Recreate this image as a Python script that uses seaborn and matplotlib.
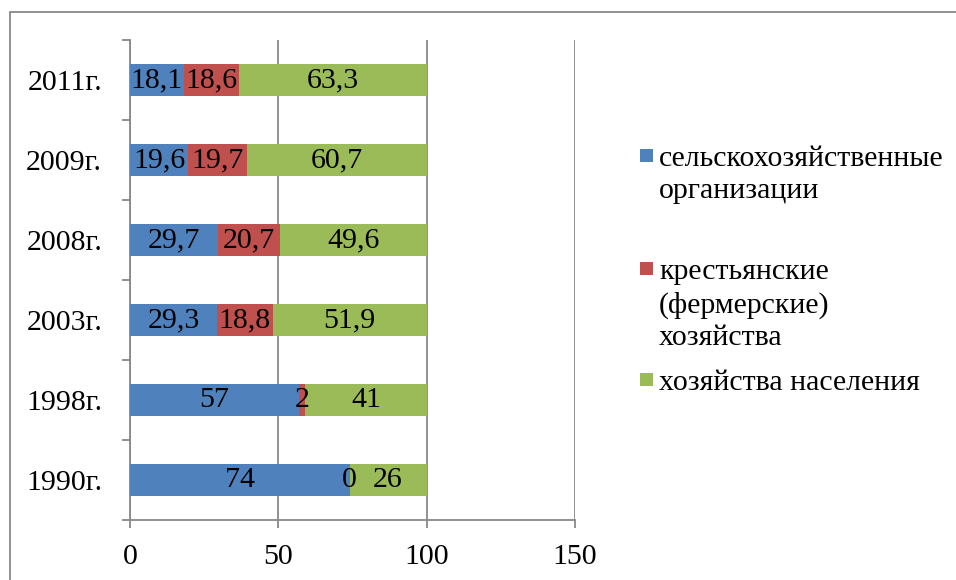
import matplotlib
matplotlib.use('Agg')
import matplotlib.pyplot as plt
import seaborn as sns
import pandas as pd
from matplotlib.patches import Rectangle

# данные (сверху вниз, как на диаграмме)
years = ['2011г.', '2009г.', '2008г.', '2003г.', '1998г.', '1990г.']
agri_org = [18.1, 19.6, 29.7, 29.3, 57, 74]
farms = [18.6, 19.7, 20.7, 18.8, 2, 0]
households = [63.3, 60.7, 49.6, 51.9, 41, 26]
series_names = ['сельскохозяйственные\nорганизации',
                'крестьянские\n(фермерские)\nхозяйства',
                'хозяйства населения']
colors = ['#4F81BD', '#C0504D', '#9BBB59']
x_ticks = [0, 50, 100, 150]

sns.set_style('white')
plt.rcParams['font.family'] = ['Liberation Serif', 'DejaVu Serif']
plt.rcParams['text.color'] = 'black'
plt.rcParams['xtick.labelcolor'] = 'black'
plt.rcParams['ytick.labelcolor'] = 'black'
FS = 21.5
GREY = '#888888'

df = pd.DataFrame({'year': years, 'org': agri_org, 'farm': farms, 'hh': households})
df['c1'] = df['org']
df['c2'] = df['org'] + df['farm']
df['c3'] = df['org'] + df['farm'] + df['hh']

fig = plt.figure(figsize=(9.56, 5.8), dpi=100)
ax = fig.add_axes([130 / 956, 1 - 520 / 580, 445 / 956, 480 / 580])

# накопленные суммы, рисуем от самой длинной к короткой
for col, c in zip(['c3', 'c2', 'c1'], colors[::-1]):
    sns.barplot(data=df, x=col, y='year', order=years, color=c, saturation=1,
                width=0.41, linewidth=0, orient='h', ax=ax, zorder=3)

# подписи значений
for i, row in df.iterrows():
    starts = [0, row['c1'], row['c2']]
    for s, v in zip(starts, [row['org'], row['farm'], row['hh']]):
        txt = f'{v:g}'.replace('.', ',')
        ax.text(s + v / 2, i, txt, ha='center', va='center', fontsize=FS,
                color='black', zorder=4)

ax.set_xlim(0, 150)
ax.set_ylim(len(years) - 0.5, -0.5)
ax.set_xticks(x_ticks)
ax.set_xticklabels([str(t) for t in x_ticks])
ax.set_xlabel('')
ax.set_ylabel('')
ax.grid(axis='x', color=GREY, linewidth=1.3, zorder=0)
ax.grid(axis='y', visible=False)
ax.set_axisbelow(True)

for side in ['top', 'right']:
    ax.spines[side].set_visible(False)
for side in ['left', 'bottom']:
    ax.spines[side].set_color(GREY)
    ax.spines[side].set_linewidth(1.3)

ax.tick_params(axis='x', length=6, width=1.3, color=GREY, direction='out',
               pad=11, labelsize=FS, bottom=True)
ax.tick_params(axis='y', which='major', length=0, pad=20, labelsize=FS)
ax.set_yticks([i + 0.5 for i in range(-1, len(years))], minor=True)
ax.tick_params(axis='y', which='minor', length=6, width=1.3, color=GREY,
               direction='out', left=True)

# легенда (как в Excel: маркер у первой строки)
leg_tops = [142, 255, 366]
for name, c, top in zip(series_names, colors, leg_tops):
    fig.patches.append(Rectangle((640 / 956, 1 - (top + 20) / 580), 13 / 956, 13 / 580,
                                 transform=fig.transFigure, facecolor=c, edgecolor='none'))
    fig.text(659 / 956, 1 - (top + 4) / 580, name, ha='left', va='top', fontsize=FS,
             linespacing=1.3)

# рамка области диаграммы
fig.patches.append(Rectangle((10 / 956, -0.1), 1.2, 1.1 - 12 / 580,
                             transform=fig.transFigure, facecolor='none',
                             edgecolor=GREY, linewidth=1.3))

fig.savefig('out.png', dpi=100)
